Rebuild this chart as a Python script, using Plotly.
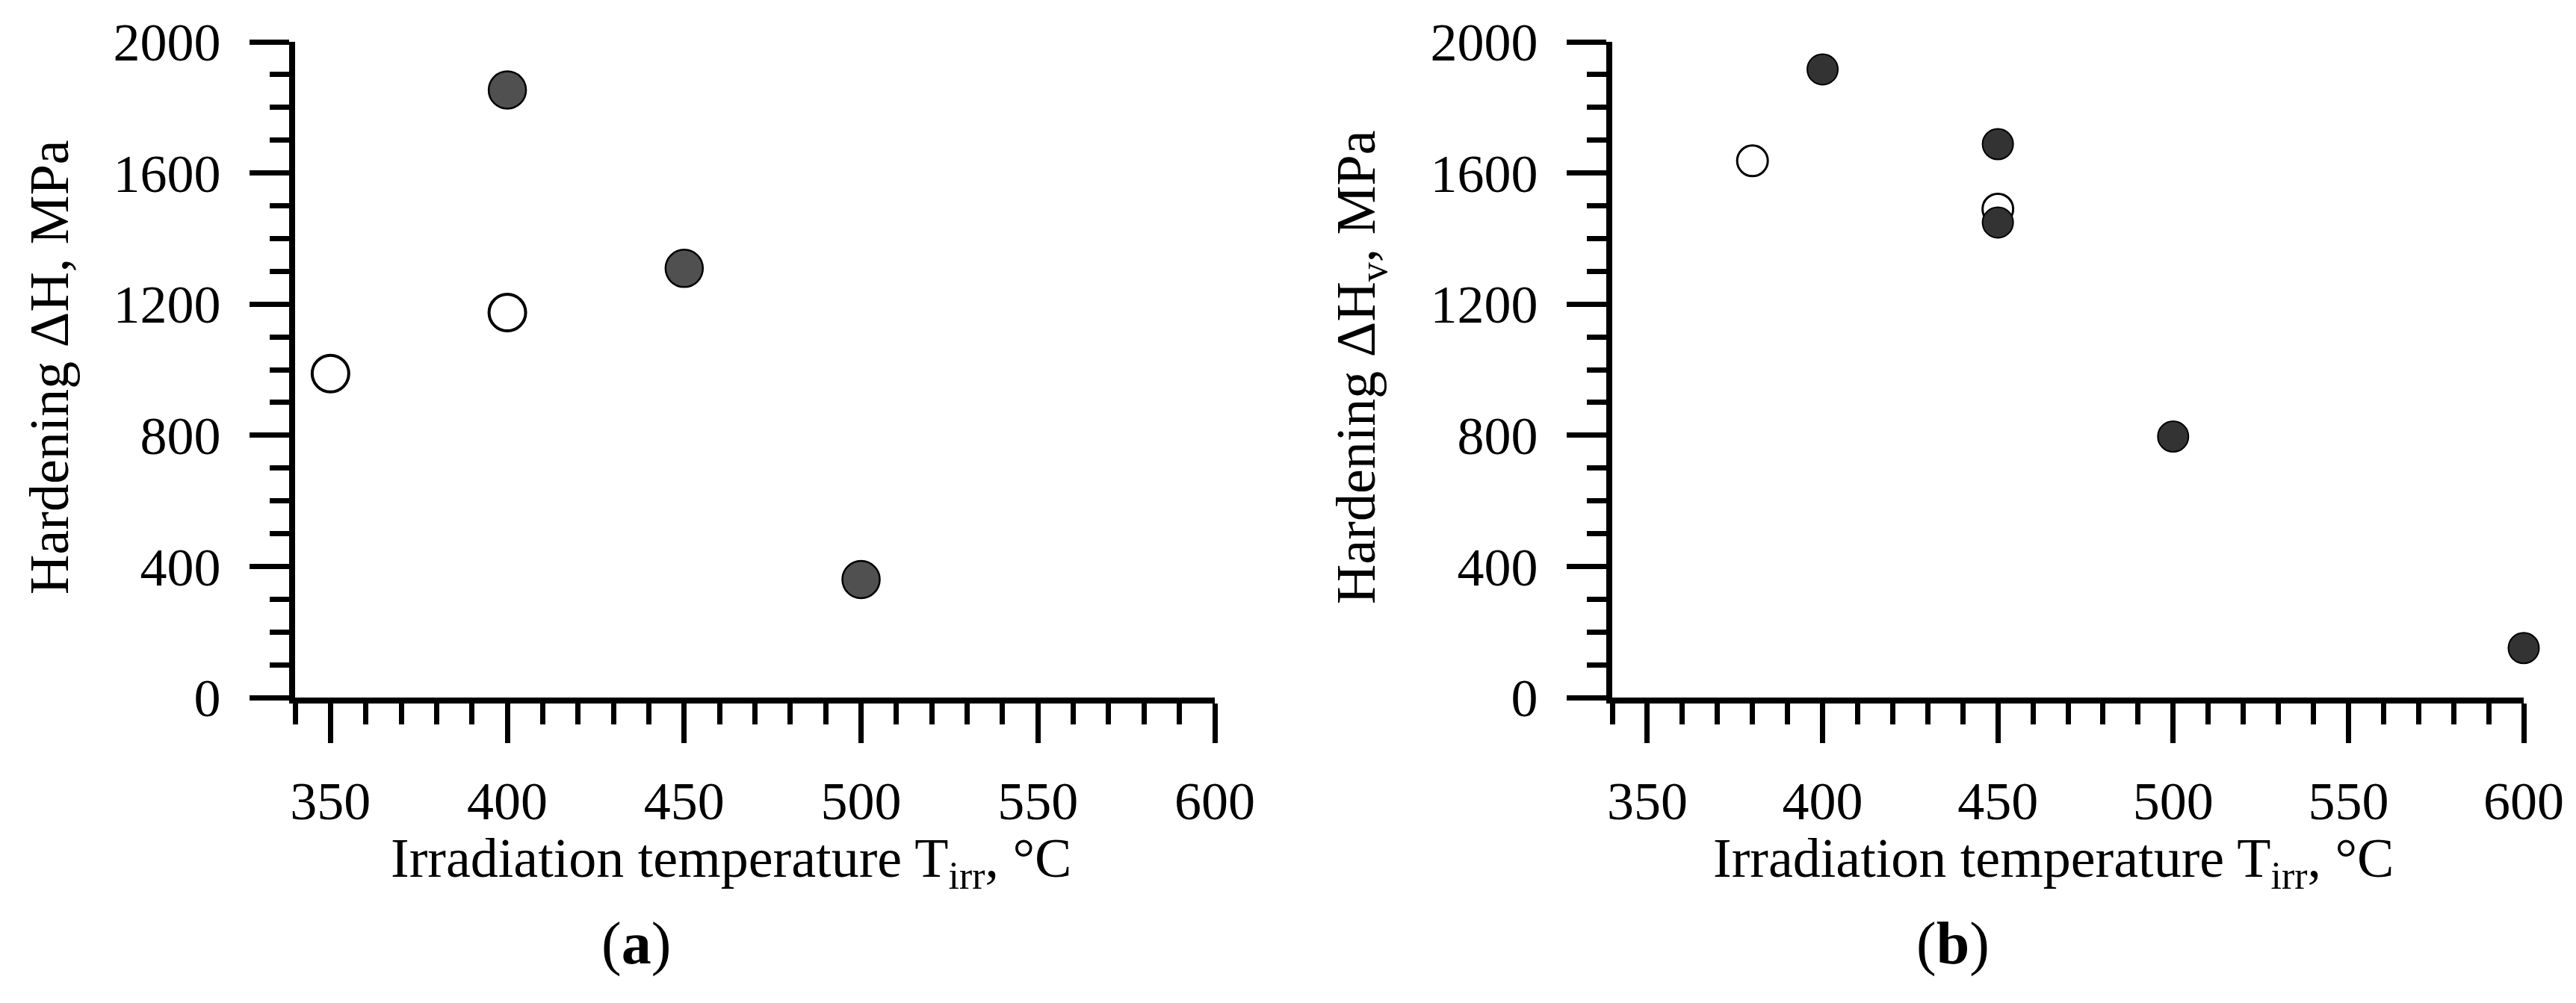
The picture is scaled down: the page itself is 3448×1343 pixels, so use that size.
import plotly.graph_objects as go

# ---------------- data ----------------
# panel (a)
a_open_T = [350, 400]
a_open_H = [988, 1174]
a_fill_T = [400, 450, 500]
a_fill_H = [1853, 1309, 360]
# panel (b)
b_open_T = [380, 450]
b_open_H = [1637, 1490]
b_fill_T = [400, 450, 450, 500, 600]
b_fill_H = [1916, 1688, 1449, 796, 151]

x_tickvals = [350, 400, 450, 500, 550, 600]
y_tickvals = [0, 400, 800, 1200, 1600, 2000]

# page has an 8 px body margin: shrink the figure so the page is exactly 3448x1343
OFF = 8
W, H = 3448 - 2 * OFF, 1343 - 2 * OFF
FONT = "Liberation Serif"

def px(x):
    return (x - OFF) / W

def py(y):
    return 1 - (y - OFF) / H

fig = go.Figure()

# panel a
fig.add_trace(go.Scatter(x=a_open_T, y=a_open_H, mode="markers", xaxis="x", yaxis="y",
                         marker=dict(size=49, color="white", line=dict(color="black", width=4)),
                         showlegend=False, cliponaxis=False))
fig.add_trace(go.Scatter(x=a_fill_T, y=a_fill_H, mode="markers", xaxis="x", yaxis="y",
                         marker=dict(size=50, color="#505050", line=dict(color="black", width=2.5)),
                         showlegend=False, cliponaxis=False))
# panel b
fig.add_trace(go.Scatter(x=b_open_T, y=b_open_H, mode="markers", xaxis="x2", yaxis="y2",
                         marker=dict(size=41, color="white", line=dict(color="black", width=3)),
                         showlegend=False, cliponaxis=False))
fig.add_trace(go.Scatter(x=b_fill_T, y=b_fill_H, mode="markers", xaxis="x2", yaxis="y2",
                         marker=dict(size=41, color="#333333", line=dict(color="black", width=2)),
                         showlegend=False, cliponaxis=False))

ydom = [py(934), py(56)]

def xaxis(dom, anchor):
    return dict(domain=dom, anchor=anchor, range=[340, 600], tickvals=x_tickvals,
                automargin=False,
                showline=True, linewidth=8, linecolor="black", ticks="outside",
                ticklen=53, tickwidth=7, tickcolor="black", showgrid=False, zeroline=False,
                ticklabelstandoff=16,
                tickfont=dict(family=FONT, size=72, color="black"),
                minor=dict(dtick=10, tick0=340, ticks="outside", ticklen=28, tickwidth=7,
                           tickcolor="black", showgrid=False))

def yaxis(anchor):
    return dict(domain=ydom, anchor=anchor, range=[0, 2000], tickvals=y_tickvals,
                automargin=False,
                showline=True, linewidth=8, linecolor="black", ticks="outside",
                ticklen=53, tickwidth=7, tickcolor="black", showgrid=False, zeroline=False,
                ticklabelstandoff=24,
                tickfont=dict(family=FONT, size=72, color="black"),
                minor=dict(dtick=100, tick0=0, ticks="outside", ticklen=26, tickwidth=7,
                           tickcolor="black", showgrid=False))

fig.update_layout(
    width=W, height=H,
    autosize=False,
    margin=dict(l=0, r=0, t=0, b=0, pad=0, autoexpand=False),
    paper_bgcolor="white", plot_bgcolor="white",
    font=dict(family=FONT, color="black"),
    xaxis=xaxis([px(395), px(1626)], "y"),
    yaxis=yaxis("x"),
    xaxis2=xaxis([px(2158), px(3378)], "y2"),
    yaxis2=yaxis("x2"),
)

ann_font = dict(family=FONT, size=74, color="black")
annotations = [
    dict(text="Irradiation temperature T<sub>irr</sub>, °C", x=px(978), y=py(1154),
         xref="paper", yref="paper", xanchor="center", yanchor="middle",
         showarrow=False, font=ann_font),
    dict(text="Irradiation temperature T<sub>irr</sub>, °C", x=px(2748), y=py(1154),
         xref="paper", yref="paper", xanchor="center", yanchor="middle",
         showarrow=False, font=ann_font),
    dict(text="Hardening ΔH, MPa", x=px(66), y=py(492), textangle=-90,
         xref="paper", yref="paper", xanchor="center", yanchor="middle",
         showarrow=False, font=ann_font),
    dict(text="Hardening ΔH<sub>v</sub>, MPa", x=px(1821), y=py(492), textangle=-90,
         xref="paper", yref="paper", xanchor="center", yanchor="middle",
         showarrow=False, font=ann_font),
    dict(text="(<b>a</b>)", x=px(851), y=py(1263),
         xref="paper", yref="paper", xanchor="center", yanchor="middle",
         showarrow=False, font=dict(family=FONT, size=80, color="black")),
    dict(text="(<b>b</b>)", x=px(2614), y=py(1263),
         xref="paper", yref="paper", xanchor="center", yanchor="middle",
         showarrow=False, font=dict(family=FONT, size=80, color="black")),
]
fig.update_layout(annotations=annotations)

fig.write_html("out.html", config={"responsive": False})
